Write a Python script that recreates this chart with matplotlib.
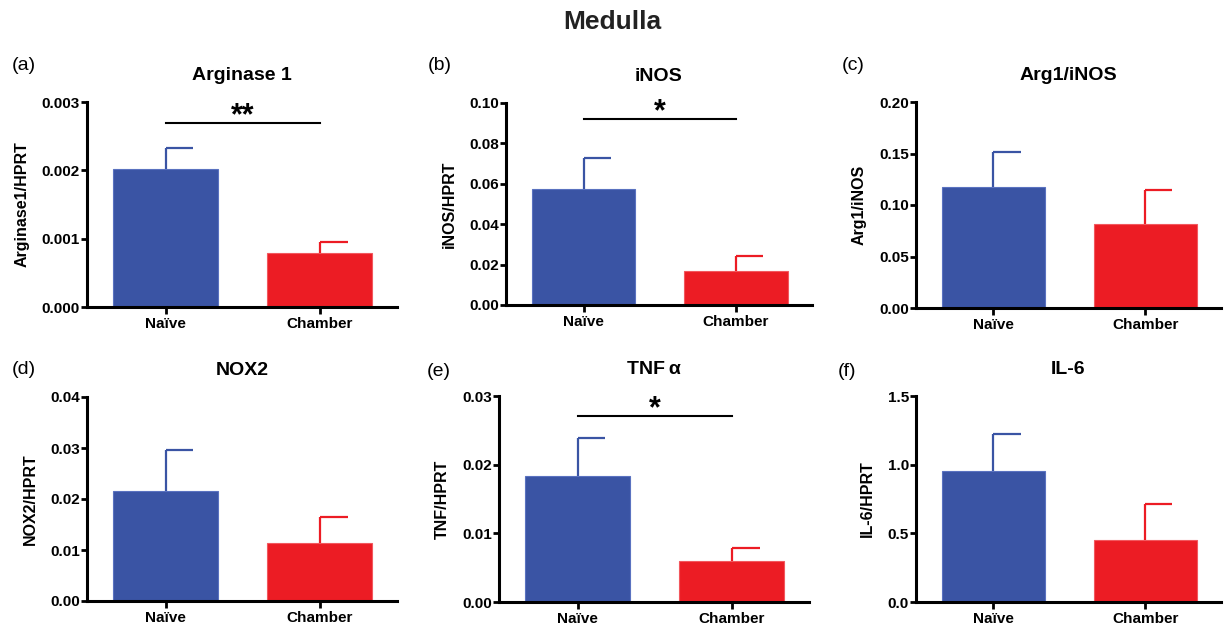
import matplotlib
matplotlib.use("Agg")
import matplotlib.pyplot as plt

# Datos (media y error, Naïve / Chamber)
grupos = ["Naïve", "Chamber"]
titulos = ["Arginase 1", "iNOS", "Arg1/iNOS", "NOX2", "TNF\u2009α", "IL-6"]
etiquetas_y = ["Arginase1/HPRT", "iNOS/HPRT", "Arg1/iNOS",
               "NOX2/HPRT", "TNF/HPRT", "IL-6/HPRT"]
letras = ["(a)", "(b)", "(c)", "(d)", "(e)", "(f)"]

arginasa = [0.00202, 0.00079]
arginasa_err = [0.00031, 0.00016]
inos = [0.0572, 0.0166]
inos_err = [0.0156, 0.0076]
arg_inos = [0.1175, 0.0816]
arg_inos_err = [0.0335, 0.0325]
nox2 = [0.0215, 0.0114]
nox2_err = [0.0081, 0.0050]
tnf = [0.0184, 0.0060]
tnf_err = [0.0055, 0.0019]
il6 = [0.955, 0.450]
il6_err = [0.270, 0.265]

medias = [arginasa, inos, arg_inos, nox2, tnf, il6]
errores = [arginasa_err, inos_err, arg_inos_err, nox2_err, tnf_err, il6_err]
ylims = [0.003, 0.10, 0.20, 0.04, 0.03, 1.5]
yticks = [
    [0, 0.001, 0.002, 0.003],
    [0, 0.02, 0.04, 0.06, 0.08, 0.10],
    [0, 0.05, 0.10, 0.15, 0.20],
    [0, 0.01, 0.02, 0.03, 0.04],
    [0, 0.01, 0.02, 0.03],
    [0, 0.5, 1.0, 1.5],
]
formatos = ["{:.3f}", "{:.2f}", "{:.2f}", "{:.2f}", "{:.2f}", "{:.1f}"]
# significancia: (texto, altura de la línea, línea base del texto)
signif = {0: ("**", 0.0027, 0.00268), 1: ("*", 0.092, 0.0915), 4: ("*", 0.0271, 0.0269)}

AZUL = "#3A54A4"
ROJO = "#EC1C24"

plt.rcParams.update({
    "font.family": ["Liberation Sans", "DejaVu Sans"],
    "font.size": 11,
})

W, H = 1224, 628
fig = plt.figure(figsize=(W / 100, H / 100), dpi=100)

# posiciones en píxeles (izquierda, arriba, ancho, alto)
pos_px = [
    (87, 102, 310, 205), (506, 103, 306, 202), (916, 102, 305, 206),
    (87, 397, 310, 204), (499, 396, 310, 206), (916, 396, 305, 206),
]
letras_px = [(12, 65), (428, 65), (842, 65), (12, 370), (427, 372), (838, 372)]

fig.text(612 / W, 1 - 22 / H, "Medulla", ha="center", va="center",
         fontsize=19, fontweight="bold", color="#222222")

for i in range(6):
    l, t, w, h = pos_px[i]
    ax = fig.add_axes([l / W, 1 - (t + h) / H, w / W, h / H])
    xs = [0, 1]
    ax.bar(xs, medias[i], width=0.68, color=[AZUL, ROJO],
           edgecolor=["#5a72c0", "#f2585e"], linewidth=0.8, zorder=2)
    for x, m, e, c in zip(xs, medias[i], errores[i], [AZUL, ROJO]):
        ax.plot([x, x], [m, m + e], color=c, lw=1.6, zorder=3,
                solid_capstyle="butt")
        ax.plot([x, x + 0.18], [m + e, m + e], color=c, lw=1.6, zorder=3,
                solid_capstyle="butt")

    ax.set_xlim(-0.51, 1.5)
    ax.set_ylim(0, ylims[i])
    ax.set_yticks(yticks[i])
    ax.set_yticklabels([formatos[i].format(v) for v in yticks[i]],
                       fontweight="bold")
    ax.set_xticks(xs)
    ax.set_xticklabels(grupos, fontweight="bold")
    ax.tick_params(axis="y", direction="out", length=4.5, width=2,
                   labelsize=11, pad=0.5)
    ax.tick_params(axis="x", direction="out", length=5, width=2,
                   labelsize=11, pad=2)
    for lado in ["top", "right"]:
        ax.spines[lado].set_visible(False)
    for lado in ["left", "bottom"]:
        ax.spines[lado].set_linewidth(2.2)

    ax.set_title(titulos[i], fontsize=14, fontweight="bold", pad=16)
    ax.set_ylabel(etiquetas_y[i], fontsize=11.5, fontweight="bold", labelpad=9)

    if i in signif:
        txt, yl, yt = signif[i]
        ax.plot([0, 1], [yl, yl], color="black", lw=1.5, clip_on=False)
        ax.text(0.5, yt, txt, ha="center", va="baseline", fontsize=22,
                fontweight="bold")

    lx, ly = letras_px[i]
    fig.text(lx / W, 1 - ly / H, letras[i], ha="left", va="center", fontsize=14)

fig.savefig("out.png", dpi=100, facecolor="white")
